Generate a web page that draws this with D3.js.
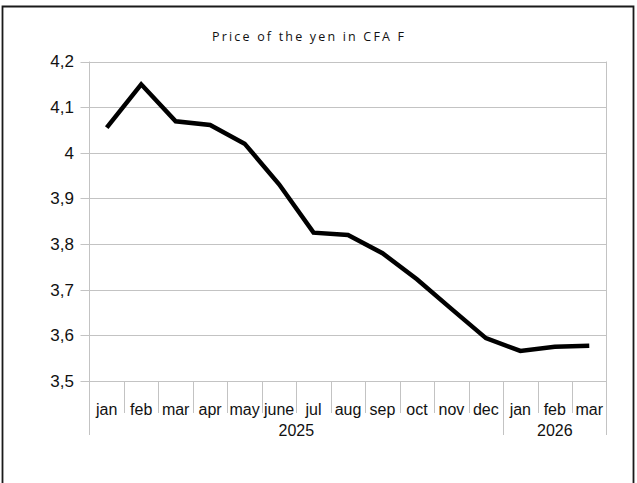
<!DOCTYPE html>
<html>
<head>
<meta charset="utf-8">
<title>Price of the yen in CFA F</title>
<script src="https://cdn.jsdelivr.net/npm/d3@7"></script>
<style>
body { margin:0; background:#fff; overflow:hidden; }
svg { display:block; }
</style>
</head>
<body>
<script>
var months = ["jan","feb","mar","apr","may","june","jul","aug","sep","oct","nov","dec","jan","feb","mar"];
var years = [{label:"2025", from:0, to:12}, {label:"2026", from:12, to:15}];
var prices = [4.055, 4.15, 4.069, 4.061, 4.02, 3.931, 3.825, 3.82, 3.78, 3.723, 3.658, 3.594, 3.566, 3.575, 3.577];
var yTicks = [3.5, 3.6, 3.7, 3.8, 3.9, 4.0, 4.1, 4.2];

var width = 637, height = 483;
var plotLeft = 89.5, plotRight = 606.5, plotTop = 61.5, plotBottom = 381;

var svg = d3.select('body').append('svg').attr('width', width).attr('height', height);

// outer frame (bottom edge is outside the picture)
svg.append('path').attr('d', 'M2.5,' + (height + 5) + 'V6.5H633.5V' + (height + 5))
  .attr('fill', 'none').attr('stroke', '#1a1a1a').attr('stroke-width', 1.8);

svg.append('text').attr('x', 308).attr('y', 41).attr('text-anchor', 'middle')
  .attr('textLength', 192).attr('lengthAdjust', 'spacing')
  .style('font-family', 'Open Sans').style('font-size', '12.5px')
  .attr('fill', '#111').text('Price of the yen in CFA F');

var x = d3.scaleBand().domain(d3.range(months.length)).range([plotLeft, plotRight]).padding(0);
var y = d3.scaleLinear().domain([3.5, 4.2]).range([plotBottom, plotTop]);

// horizontal grid
svg.selectAll('line.grid').data(yTicks).enter().append('line').attr('class', 'grid')
  .attr('x1', plotLeft - 9).attr('x2', plotRight)
  .attr('y1', function(d){ return Math.round(y(d)) + 0.5; })
  .attr('y2', function(d){ return Math.round(y(d)) + 0.5; })
  .attr('stroke', '#c3c3c3').attr('stroke-width', 1);

// y labels
svg.selectAll('text.ylab').data(yTicks).enter().append('text').attr('class', 'ylab')
  .attr('x', 74).attr('y', function(d){ return y(d); }).attr('dy', '0.35em')
  .attr('text-anchor', 'end')
  .style('font-family', 'Liberation Sans, Arial').style('font-size', '17px').attr('fill', '#111')
  .text(function(d){ return d3.format('.1~f')(d).replace('.', ','); });

// axis and right border
svg.append('line').attr('x1', plotLeft).attr('x2', plotLeft).attr('y1', plotTop).attr('y2', 435)
  .attr('stroke', '#c3c3c3');
svg.append('line').attr('x1', plotRight).attr('x2', plotRight).attr('y1', plotTop).attr('y2', 435)
  .attr('stroke', '#c3c3c3');

// month separators
var bounds = d3.range(1, months.length);
svg.selectAll('line.sep').data(bounds).enter().append('line').attr('class', 'sep')
  .attr('x1', function(i){ return Math.round(x(i)) + 0.5; })
  .attr('x2', function(i){ return Math.round(x(i)) + 0.5; })
  .attr('y1', plotBottom)
  .attr('y2', function(i){ return years.some(function(yr){ return yr.from === i; }) ? 435 : 413; })
  .attr('stroke', '#c3c3c3');

// month labels
svg.selectAll('text.mlab').data(months).enter().append('text').attr('class', 'mlab')
  .attr('x', function(d, i){ return x(i) + x.bandwidth() / 2; }).attr('y', 415)
  .attr('text-anchor', 'middle')
  .style('font-family', 'Liberation Sans, Arial').style('font-size', '16px').attr('fill', '#111')
  .text(function(d){ return d; });

// year labels
svg.selectAll('text.yr').data(years).enter().append('text').attr('class', 'yr')
  .attr('x', function(d){ return (x(d.from) + x(d.to - 1) + x.bandwidth()) / 2; }).attr('y', 436)
  .attr('text-anchor', 'middle')
  .style('font-family', 'Liberation Sans, Arial').style('font-size', '16px').attr('fill', '#111')
  .text(function(d){ return d.label; });

// price line
var line = d3.line().x(function(d, i){ return x(i) + x.bandwidth() / 2; }).y(function(d){ return y(d); });
svg.append('path').datum(prices).attr('d', line)
  .attr('fill', 'none').attr('stroke', '#000').attr('stroke-width', 4.5).attr('stroke-linejoin', 'miter');
</script>
</body>
</html>
